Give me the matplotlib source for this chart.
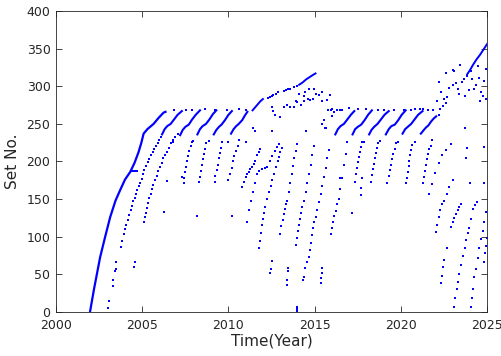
import numpy as np
import matplotlib
matplotlib.use("Agg")
import matplotlib.pyplot as plt

# dense streaks (drawn as thick dotted-looking lines), None splits streaks
ramp_t = [2001.97, 2002.2, 2002.56, 2002.85, 2003.14, 2003.45, 2003.72, 2004.0, 2004.3,
          2004.55, 2004.78, 2004.95, 2005.08, 2005.3, 2005.66, 2005.95, 2006.24, 2006.35]
ramp_n = [0, 30, 73, 100, 126, 148, 162, 176, 186, 198, 212, 225, 237, 243, 250, 258, 265, 266]

waves_t = [2006.15, 2006.3, 2006.45, 2006.65, 2006.85, 2007.05, 2007.3, None,
           2007.2, 2007.35, 2007.5, 2007.7, 2007.9, 2008.1, 2008.35, None,
           2008.2, 2008.35, 2008.5, 2008.7, 2008.9, 2009.1, 2009.3, None,
           2009.15, 2009.3, 2009.45, 2009.6, 2009.8, 2010.0, 2010.2, None,
           2010.15, 2010.3, 2010.45, 2010.6, 2010.8, 2010.95, 2011.1, None,
           2016.2, 2016.35, 2016.5, 2016.7, 2016.9, 2017.1, 2017.3, None,
           2017.2, 2017.35, 2017.5, 2017.7, 2017.9, 2018.1, 2018.32, None,
           2018.16, 2018.3, 2018.45, 2018.65, 2018.85, 2019.05, 2019.3, None,
           2019.13, 2019.3, 2019.45, 2019.65, 2019.85, 2020.05, 2020.28, None,
           2020.1, 2020.25, 2020.4, 2020.6, 2020.8, 2021.0, 2021.26, None,
           2021.16, 2021.3, 2021.45, 2021.6, 2021.75, 2021.9, 2022.05]
waves_n = [236, 243, 247, 250, 256, 262, 267, None,
           235, 242, 246, 249, 256, 262, 268, None,
           236, 243, 247, 250, 256, 263, 268, None,
           236, 242, 246, 249, 255, 262, 267, None,
           237, 243, 247, 250, 255, 261, 266, None,
           236, 243, 247, 250, 256, 262, 267, None,
           236, 243, 246, 249, 255, 262, 268, None,
           236, 242, 246, 250, 256, 262, 267, None,
           236, 243, 247, 249, 255, 262, 268, None,
           237, 243, 246, 250, 256, 262, 267, None,
           237, 241, 245, 248, 253, 257, 260]

rise_t = [2011.4, 2011.55, 2011.7, 2011.85, 2012.0, None,
          2014.1, 2014.3, 2014.5, 2014.7, 2014.9, 2015.05, None,
          2023.85, 2024.0, 2024.2, 2024.4, 2024.6, 2024.8, 2025.0]
rise_n = [268, 272, 276, 280, 283, None,
          302, 305, 309, 312, 315, 317, None,
          316, 321, 329, 336, 342, 349, 356]

# sparse points, (year, set no.)
dots_build = [
    (2003.04, 5), (2003.08, 14), (2003.28, 35), (2003.33, 42), (2003.4, 55), (2003.45, 57),
    (2003.48, 66), (2003.78, 86), (2003.85, 95), (2003.92, 103), (2004.0, 110), (2004.08, 116),
    (2004.17, 122), (2004.25, 129), (2004.32, 135), (2004.4, 141), (2004.48, 147), (2004.56, 152),
    (2004.64, 157), (2004.72, 162), (2004.8, 167), (2004.88, 172), (2004.96, 177), (2005.05, 183),
    (2005.13, 189), (2005.22, 194), (2005.32, 199), (2005.42, 203), (2005.52, 208), (2005.6, 212),
    (2005.7, 216), (2005.8, 220), (2005.9, 224), (2006.0, 229), (2006.08, 233),
    (2004.55, 60), (2004.57, 67), (2004.4, 187), (2004.5, 187), (2004.6, 187), (2004.7, 187),
    (2005.08, 120), (2005.14, 126), (2005.2, 131), (2005.27, 138), (2005.34, 145), (2005.42, 151),
    (2005.5, 157), (2005.58, 163), (2005.65, 169), (2005.73, 175), (2005.83, 181), (2005.93, 187),
    (2006.03, 193), (2006.13, 198), (2006.23, 204), (2006.33, 209), (2006.43, 213), (2006.55, 218),
    (2006.67, 224), (2006.8, 229), (2006.92, 233), (2007.05, 237),
    (2006.28, 133), (2008.15, 127), (2010.2, 127),
    (2007.45, 178), (2007.5, 186), (2007.56, 193), (2007.62, 200), (2007.68, 207), (2007.74, 214),
    (2007.8, 220), (2007.86, 226),
    (2008.35, 180), (2008.4, 188), (2008.46, 196), (2008.52, 203), (2008.58, 210), (2008.63, 217),
    (2008.7, 224),
    (2009.25, 181), (2009.32, 189), (2009.38, 196), (2009.45, 204), (2009.5, 211), (2009.57, 218),
    (2009.63, 226),
    (2010.0, 176), (2010.1, 184), (2010.18, 192), (2010.27, 200), (2010.35, 207), (2010.45, 214),
    (2010.55, 221), (2010.62, 228),
    (2010.8, 166), (2010.9, 173), (2011.0, 179), (2011.1, 183), (2011.18, 186), (2011.28, 190),
    (2011.38, 193), (2011.48, 197), (2011.57, 201), (2011.66, 208), (2011.76, 213), (2011.86, 217),
    (2006.8, 226), (2007.95, 227), (2008.9, 227), (2009.95, 226), (2011.0, 226),
    (2006.45, 174), (2007.3, 180), (2007.4, 172), (2008.3, 173), (2009.2, 173),
    (2006.82, 268), (2007.55, 269), (2007.9, 268), (2008.66, 270), (2009.24, 268), (2009.92, 268),
    (2010.6, 270), (2011.0, 268), (2011.45, 244),
]

dots_gap = [
    (2011.1, 120), (2011.2, 135), (2011.3, 148), (2011.42, 160), (2011.55, 172), (2011.67, 184),
    (2011.8, 188), (2011.95, 190), (2012.1, 191), (2012.25, 193), (2012.4, 200), (2012.55, 207),
    (2012.7, 214), (2012.82, 219), (2012.93, 223),
    (2011.76, 85), (2011.82, 95), (2011.88, 105), (2011.95, 115), (2012.02, 124), (2012.08, 132),
    (2012.15, 139), (2012.25, 150), (2012.35, 160), (2012.45, 168), (2012.54, 175), (2012.65, 184),
    (2012.75, 193), (2012.85, 200), (2012.93, 206), (2013.0, 212), (2013.1, 218),
    (2013.0, 104), (2013.07, 114), (2013.14, 122), (2013.21, 130), (2013.28, 137), (2013.35, 143),
    (2013.41, 148), (2013.5, 160), (2013.58, 172), (2013.66, 183), (2013.74, 194), (2013.82, 204),
    (2013.9, 214), (2013.99, 223),
    (2013.9, 89), (2013.96, 98), (2014.02, 107), (2014.08, 116), (2014.14, 124), (2014.2, 131),
    (2014.28, 139), (2014.38, 148), (2014.48, 160), (2014.58, 172), (2014.68, 184), (2014.78, 196),
    (2014.87, 208), (2014.96, 221),
    (2014.67, 73), (2014.72, 82), (2014.78, 92), (2014.85, 102), (2014.92, 111), (2014.99, 119),
    (2015.06, 126), (2015.15, 136), (2015.25, 146), (2015.35, 157), (2015.45, 168), (2015.55, 180),
    (2015.65, 192), (2015.74, 204), (2015.83, 215),
    (2015.93, 104), (2016.0, 112), (2016.07, 120), (2016.14, 127), (2016.22, 134), (2016.32, 144),
    (2016.41, 150), (2016.5, 164), (2016.6, 178), (2016.7, 195), (2016.8, 210),
    (2017.67, 155), (2017.7, 165), (2017.73, 178), (2017.19, 131),
    (2012.44, 52), (2012.45, 57), (2012.5, 68), (2013.4, 36), (2013.42, 42), (2013.45, 55),
    (2013.46, 59), (2014.35, 42), (2014.37, 47), (2014.45, 58), (2014.55, 66), (2015.35, 38),
    (2015.37, 45), (2015.4, 52), (2015.42, 58), (2013.98, 1), (2013.98, 4), (2013.98, 7),
    (2011.57, 241), (2012.5, 241), (2014.5, 241), (2012.7, 262), (2013.0, 259), (2015.45, 250),
    (2015.55, 255), (2015.6, 245), (2015.66, 245), (2016.0, 260),
    (2012.3, 285), (2012.4, 286), (2012.5, 287), (2012.6, 289), (2012.75, 290), (2012.85, 292),
    (2013.25, 294), (2013.35, 295), (2013.45, 297), (2013.55, 297), (2013.8, 299), (2013.95, 300),
    (2012.5, 272), (2012.6, 267), (2013.2, 272), (2013.4, 275), (2013.6, 272), (2013.8, 272),
    (2013.9, 281), (2014.0, 279), (2014.2, 275), (2014.38, 287), (2014.4, 280), (2014.6, 283),
    (2014.75, 282), (2014.9, 283), (2014.96, 296), (2015.1, 290), (2015.25, 288), (2015.4, 293),
    (2015.45, 280), (2015.7, 282), (2015.89, 288), (2015.95, 268), (2016.1, 266), (2016.3, 268),
    (2016.5, 268), (2014.1, 290), (2014.45, 293), (2014.7, 296),
]

dots_late = [
    (2017.4, 184), (2017.46, 192), (2017.52, 199), (2017.58, 206), (2017.64, 212), (2017.7, 219),
    (2017.77, 226),
    (2018.3, 182), (2018.37, 190), (2018.43, 197), (2018.5, 204), (2018.56, 211), (2018.63, 218),
    (2018.7, 225),
    (2019.3, 181), (2019.37, 189), (2019.43, 196), (2019.5, 203), (2019.57, 210), (2019.64, 217),
    (2019.7, 224),
    (2020.35, 178), (2020.4, 186), (2020.45, 194), (2020.5, 201), (2020.55, 208), (2020.6, 215),
    (2020.66, 222),
    (2021.3, 172), (2021.35, 180), (2021.4, 188), (2021.46, 196), (2021.52, 203), (2021.58, 210),
    (2021.66, 216), (2021.74, 220),
    (2016.9, 226), (2017.85, 226), (2018.8, 227), (2019.85, 226), (2020.8, 226), (2021.8, 228),
    (2016.45, 178), (2017.35, 173), (2018.25, 173), (2019.2, 172), (2020.3, 172),
    (2015.75, 268), (2016.0, 270), (2016.6, 268), (2017.0, 271), (2017.5, 270), (2018.0, 270),
    (2018.7, 268), (2019.05, 268), (2019.6, 268), (2020.2, 268), (2020.6, 268), (2020.8, 270),
    (2021.1, 270), (2021.3, 270), (2021.6, 268), (2021.85, 268),
    (2021.65, 157), (2021.8, 170), (2022.0, 185), (2022.2, 198), (2022.4, 208), (2022.6, 215),
    (2022.9, 223),
    (2022.03, 106), (2022.1, 115), (2022.2, 126), (2022.3, 136), (2022.4, 143), (2022.5, 148),
    (2022.65, 157), (2022.8, 166), (2023.0, 175),
    (2022.33, 38), (2022.38, 48), (2022.45, 60), (2022.5, 69), (2022.7, 85), (2022.9, 113),
    (2023.0, 120), (2023.1, 125), (2023.2, 130), (2023.3, 135), (2023.4, 140), (2023.5, 144),
    (2023.1, 7), (2023.17, 18), (2023.25, 30), (2023.33, 40), (2023.4, 50), (2023.5, 62),
    (2023.6, 74), (2023.7, 85), (2023.8, 96), (2023.9, 105), (2023.97, 111), (2024.07, 124),
    (2024.17, 137), (2024.3, 142), (2024.4, 146),
    (2024.07, 7), (2024.13, 18), (2024.2, 30), (2024.26, 46), (2024.35, 57), (2024.45, 72),
    (2024.55, 85), (2024.65, 97), (2024.75, 107), (2024.85, 120), (2024.95, 133),
    (2024.8, 66), (2024.87, 78), (2024.94, 88), (2025.0, 98),
    (2023.7, 245), (2023.8, 205), (2023.85, 218), (2024.0, 171), (2024.84, 219), (2024.84, 171),
    (2022.1, 280), (2022.2, 262), (2022.23, 305), (2022.3, 270), (2022.33, 292), (2022.45, 274),
    (2022.52, 283), (2022.6, 318), (2022.6, 278), (2022.7, 286), (2023.0, 322), (2023.1, 320),
    (2023.0, 302), (2023.2, 304), (2023.3, 297), (2023.45, 328), (2023.55, 306), (2023.65, 310),
    (2023.75, 287), (2023.85, 314), (2023.95, 295), (2024.05, 320), (2024.15, 309), (2024.35, 302),
    (2024.45, 327), (2024.55, 311), (2024.65, 292), (2024.75, 287), (2024.85, 307), (2024.95, 283),
    (2024.95, 323), (2022.8, 298), (2023.4, 290), (2024.25, 296), (2024.6, 280),
]

fig = plt.figure(figsize=(5.02, 3.56), dpi=100)
ax = fig.add_axes([0.1116, 0.1236, 0.8586, 0.8455])

blue = (0, 0, 1)
ax.plot(np.array(ramp_t, dtype=float), np.array(ramp_n, dtype=float), color=blue, lw=1.6)
ax.plot(np.array(waves_t, dtype=float), np.array(waves_n, dtype=float), color=blue, lw=1.5)
ax.plot(np.array(rise_t, dtype=float), np.array(rise_n, dtype=float), color=blue, lw=1.4)
for dots in (dots_build, dots_gap, dots_late):
    t, n = zip(*dots)
    ax.plot(t, n, linestyle='none', marker='s', ms=2.0, mew=0, color=blue)

grey = (0.15, 0.15, 0.15)
ax.set_xlim(2000, 2025)
ax.set_ylim(0, 400)
ax.set_xticks(range(2000, 2026, 5))
ax.set_yticks(range(0, 401, 50))
ax.tick_params(direction='in', top=True, right=True, length=4, width=0.6,
               labelsize=9, colors=grey)
ax.tick_params(axis='x', pad=5)
ax.tick_params(axis='y', pad=4)
for s in ax.spines.values():
    s.set_color(grey)
    s.set_linewidth(0.6)
ax.set_xlabel('Time(Year)', fontsize=11, color=grey, labelpad=1)
ax.set_ylabel('Set No.', fontsize=11, color=grey, labelpad=5)

fig.savefig('out.png', dpi=100)
